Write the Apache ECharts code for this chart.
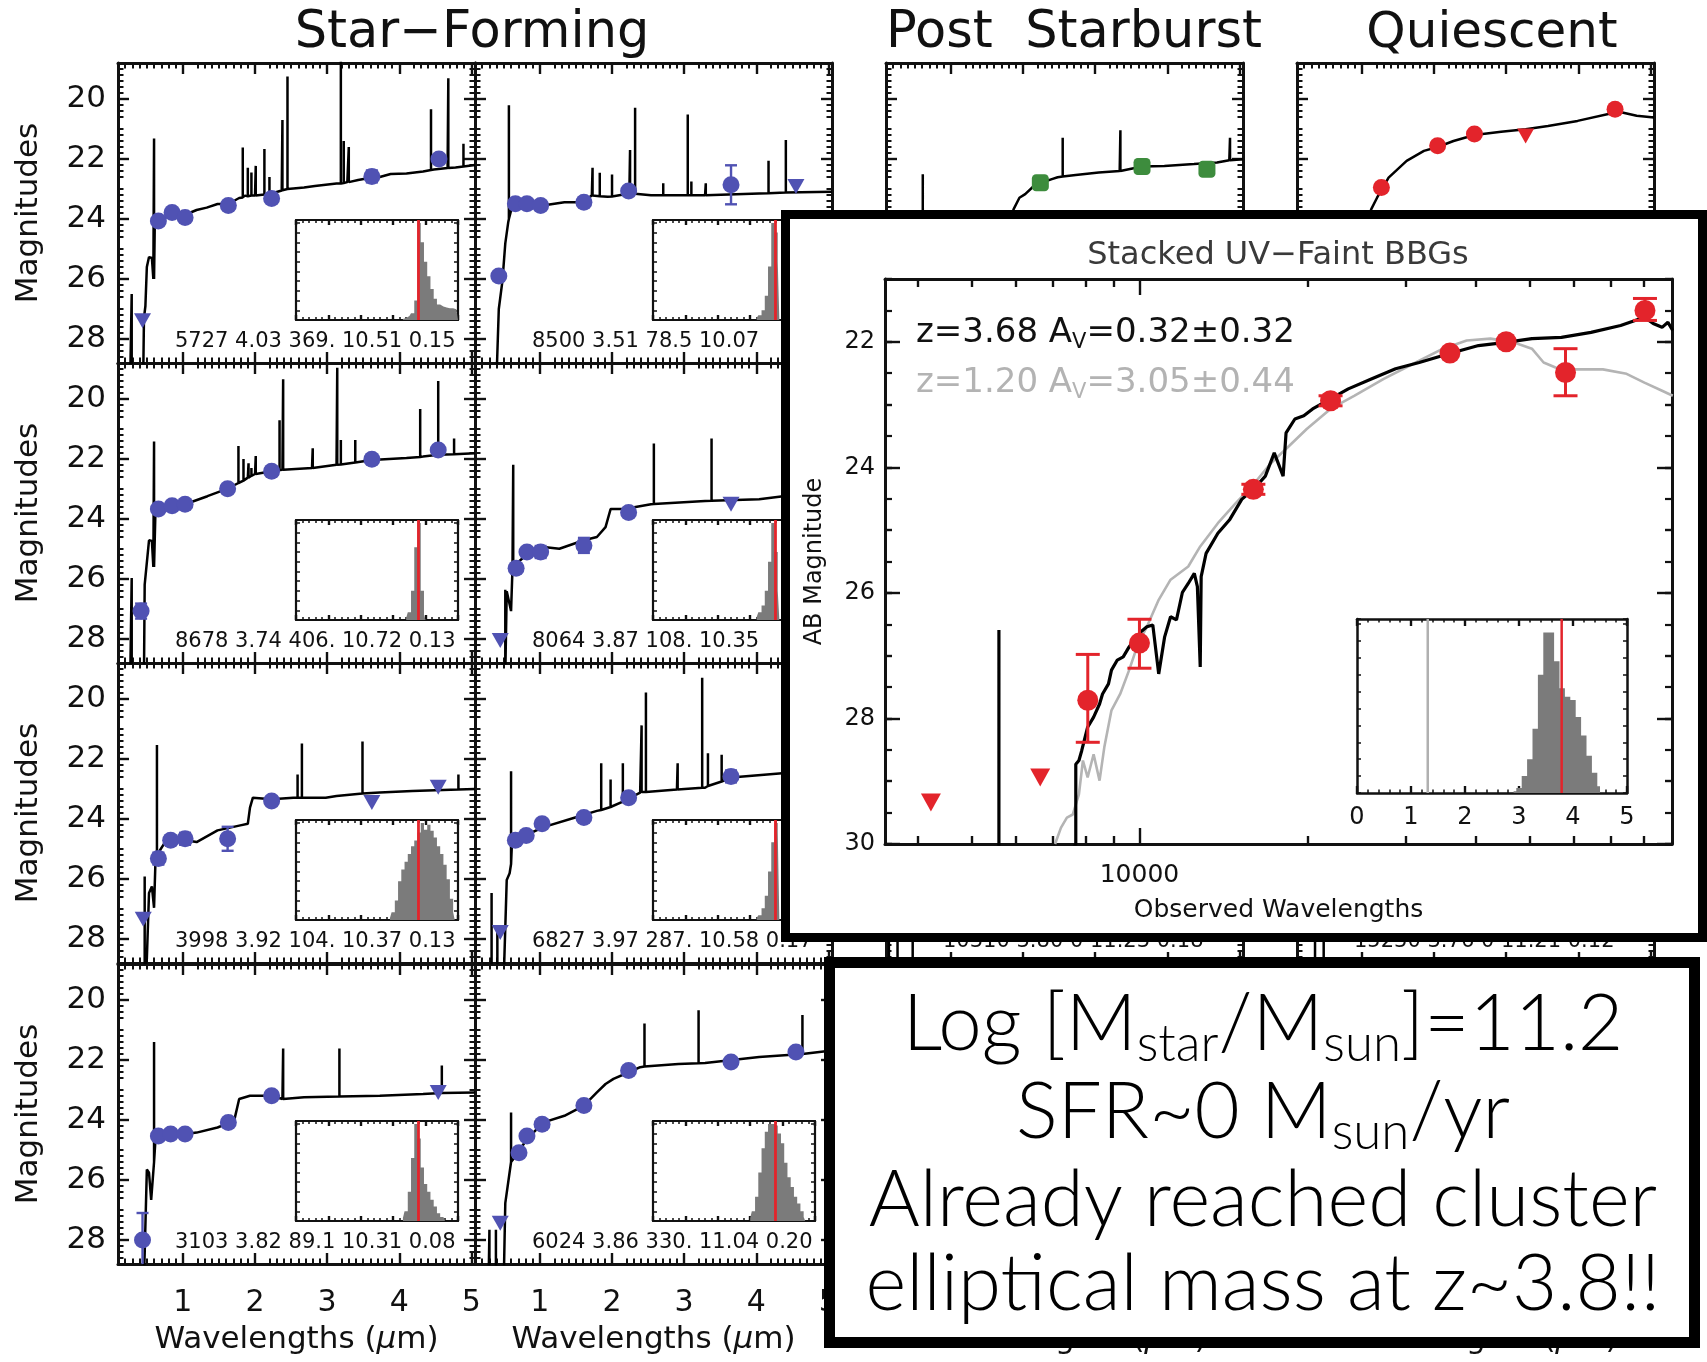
<!DOCTYPE html>
<html><head><meta charset="utf-8">
<script src="https://cdn.jsdelivr.net/npm/echarts@6.0.0/dist/echarts.min.js"></script>
<style>html,body{margin:0;padding:0;background:#fff}#c{width:1707px;height:1362px}</style>
</head><body><div id="c"></div>
<script>
// ===================== DATA =====================
const COLUMN_TITLES = ['Star\u2212Forming', 'Post  Starburst', 'Quiescent'];
const WL_TICKS = [1, 2, 3, 4, 5];
const MAG_TICKS = [20, 22, 24, 26, 28];
const HIST_RED_Z = 3.78;

// Star-forming, column A (left), rows 1-4.  cont: [um, mag]; lines: [um, base mag, peak mag]
// det: [um, mag, err]; lim: [um, mag] upper limits; hist: [z, relative height]
const sfA1_cont = [[0.27,29.2],[0.45,29.2],[0.46,27.3],[0.48,26.9],[0.5,25.6],[0.53,25.27],[0.57,25.3],[0.59,26.0],[0.61,24.15],[0.66,24.05],[0.74,23.95],[0.89,23.85],[1.04,23.85],[1.19,23.7],[1.33,23.62],[1.48,23.5],[1.63,23.5],[1.78,23.3],[1.86,23.22],[2.0,23.22],[2.16,23.2],[2.23,23.15],[2.37,23.05],[2.53,22.98],[2.68,22.95],[2.83,22.9],[2.98,22.86],[3.13,22.82],[3.28,22.77],[3.43,22.7],[3.62,22.62],[3.73,22.6],[3.88,22.5],[4.1,22.48],[4.33,22.42],[4.48,22.35],[4.67,22.3],[4.78,22.28],[4.9,22.25],[5.05,22.2]];
const sfA1_lines = [[0.29,29.2,26.5],[0.6,26.0,21.32],[1.83,23.28,21.62],[1.9,23.24,22.29],[1.95,23.22,22.45],[2.01,23.22,22.23],[2.13,23.18,21.67],[2.2,23.16,22.6],[2.38,23.04,20.7],[2.45,23.0,19.25],[3.19,22.82,18.7],[3.23,22.8,21.4],[3.3,22.77,21.6],[4.44,22.37,20.34],[4.68,22.3,19.31],[4.89,22.25,21.49]];
const sfA1_det = [[0.66,24.07,0.15],[0.85,23.78,0.12],[1.03,23.95,0.15],[1.63,23.55,0.12],[2.23,23.32,0.1],[3.62,22.58,0.2],[4.55,22.0,0.12]];
const sfA1_lim = [[0.44,27.39]];
const sfA1_hist = [[3.3,0.01],[3.4,0.02],[3.5,0.04],[3.6,0.07],[3.7,0.2],[3.8,1.0],[3.9,0.8],[4.0,0.6],[4.1,0.45],[4.2,0.32],[4.3,0.22],[4.4,0.16],[4.5,0.14],[4.6,0.13],[4.7,0.12],[4.8,0.12],[4.9,0.11],[5.0,0.1]];
const sfA1_text = '5727 4.03 369. 10.51 0.15';

const sfA2_cont = [[0.27,29.2],[0.46,29.2],[0.47,26.19],[0.53,24.71],[0.57,24.73],[0.59,25.6],[0.62,23.67],[0.85,23.56],[1.03,23.51],[1.34,23.24],[1.62,22.99],[1.78,22.8],[1.9,22.62],[2.0,22.5],[2.23,22.41],[2.38,22.36],[2.79,22.3],[3.13,22.19],[3.62,22.03],[4.1,21.97],[4.33,21.92],[4.55,21.85],[5.05,21.81]];
const sfA2_lines = [[0.29,29.2,25.97],[0.6,25.6,21.42],[1.77,22.8,21.57],[1.84,22.72,22.0],[1.91,22.62,22.14],[1.95,22.56,22.3],[2.01,22.5,21.9],[2.34,22.37,20.71],[2.39,22.36,19.34],[2.8,22.3,21.64],[3.14,22.19,18.96],[3.19,22.18,21.37],[3.39,22.12,21.37],[4.29,21.93,20.33],[4.54,21.86,19.4],[4.76,21.84,21.32]];
const sfA2_det = [[0.42,27.07,0.25],[0.66,23.67,0.1],[0.85,23.56,0.1],[1.03,23.51,0.1],[1.62,22.99,0.08],[2.23,22.41,0.08],[3.62,22.01,0.08],[4.54,21.7,0.1]];
const sfA2_lim = [];
const sfA2_hist = [[3.4,0.02],[3.5,0.08],[3.6,0.3],[3.7,0.75],[3.8,1.0],[3.9,0.3],[4.0,0.05]];
const sfA2_text = '8678 3.74 406. 10.72 0.13';

const sfA3_cont = [[0.27,29.2],[0.49,29.2],[0.5,28.66],[0.53,26.47],[0.57,26.25],[0.6,26.96],[0.62,25.37],[0.74,24.82],[1.04,24.71],[1.19,24.77],[1.48,24.38],[1.78,24.22],[1.9,24.16],[1.93,23.62],[1.97,23.29],[2.23,23.34],[2.53,23.29],[2.98,23.29],[3.13,23.23],[3.73,23.12],[4.18,23.07],[5.05,23.0]];
const sfA3_lines = [[0.47,29.2,25.92],[0.64,25.2,21.53],[2.59,23.29,22.52],[2.65,23.29,21.48],[3.49,23.15,21.42],[4.82,23.02,22.52]];
const sfA3_det = [[0.66,25.32,0.2],[0.83,24.71,0.15],[1.03,24.66,0.2],[1.62,24.66,0.4],[2.23,23.4,0.12]];
const sfA3_lim = [[0.45,27.34],[3.62,23.45],[4.54,22.94]];
const sfA3_hist = [[2.9,0.02],[3.0,0.08],[3.1,0.2],[3.2,0.4],[3.3,0.52],[3.4,0.6],[3.5,0.68],[3.6,0.76],[3.7,0.82],[3.8,0.9],[3.9,1.0],[4.0,0.93],[4.1,0.98],[4.2,0.92],[4.3,0.85],[4.4,0.76],[4.5,0.68],[4.6,0.57],[4.7,0.42],[4.8,0.22],[4.9,0.08]];
const sfA3_text = '3998 3.92 104. 10.37 0.13';

const sfA4_cont = [[0.27,29.2],[0.46,29.2],[0.47,28.45],[0.5,25.65],[0.53,25.76],[0.56,26.66],[0.62,24.64],[1.04,24.47],[1.19,24.42],[1.48,24.25],[1.71,24.03],[1.78,23.3],[1.93,23.19],[2.23,23.19],[2.38,23.3],[2.68,23.24],[3.73,23.19],[4.33,23.13],[5.05,23.08]];
const sfA4_lines = [[0.6,25.4,21.4],[2.39,23.3,21.62],[3.17,23.22,21.62],[4.59,23.1,22.18]];
const sfA4_det = [[0.44,28.0,0.9],[0.66,24.53,0.1],[0.83,24.47,0.1],[1.03,24.47,0.15],[1.63,24.08,0.12],[2.23,23.19,0.1]];
const sfA4_lim = [[4.54,23.08]];
const sfA4_hist = [[3.3,0.03],[3.4,0.1],[3.5,0.3],[3.6,0.65],[3.7,1.0],[3.8,0.85],[3.9,0.55],[4.0,0.38],[4.1,0.3],[4.2,0.22],[4.3,0.15],[4.4,0.08],[4.5,0.04],[4.6,0.02]];
const sfA4_text = '3103 3.82 89.1 10.31 0.08';

// Star-forming, column B
const sfB1_cont = [[0.4,29.2],[0.43,27.0],[0.48,26.07],[0.52,24.81],[0.56,24.12],[0.63,23.44],[0.82,23.5],[1.04,23.55],[1.34,23.44],[1.61,23.44],[1.72,23.21],[1.94,23.26],[2.24,23.15],[2.54,23.21],[3.29,23.21],[4.04,23.15],[5.05,23.09]];
const sfB1_lines = [[0.57,24.0,20.21],[1.73,23.22,22.29],[1.83,23.24,22.46],[2.0,23.25,22.52],[2.25,23.15,21.7],[2.32,23.16,20.29],[2.71,23.21,22.81],[3.05,23.21,20.52],[3.1,23.21,22.75],[3.3,23.21,22.81],[4.17,23.14,22.06],[4.41,23.12,21.37]];
const sfB1_det = [[0.43,25.9,0.15],[0.66,23.49,0.1],[0.82,23.49,0.1],[1.01,23.55,0.12],[1.61,23.44,0.12],[2.23,23.07,0.08],[3.65,22.86,0.65]];
const sfB1_lim = [[4.55,22.92]];
const sfB1_hist = [[3.2,0.02],[3.3,0.05],[3.4,0.1],[3.5,0.25],[3.6,0.55],[3.7,1.0],[3.8,0.9],[3.9,0.6]];
const sfB1_text = '8500 3.51 78.5 10.07';

const sfB2_cont = [[0.47,29.2],[0.48,28.82],[0.54,26.41],[0.6,27.07],[0.62,25.64],[0.67,25.5],[0.82,25.18],[1.05,24.93],[1.27,24.99],[1.61,24.71],[1.79,24.6],[1.91,24.27],[1.98,23.67],[2.17,23.67],[2.54,23.51],[3.29,23.4],[4.04,23.34],[4.4,23.23]];
const sfB2_lines = [[0.52,29.2,26.36],[0.63,25.6,22.19],[2.58,23.5,21.48],[3.38,23.39,21.32]];
const sfB2_det = [[0.67,25.64,0.12],[0.82,25.1,0.15],[1.01,25.1,0.2],[1.61,24.88,0.25],[2.23,23.78,0.1]];
const sfB2_lim = [[0.45,28.05],[3.65,23.51]];
const sfB2_hist = [[3.2,0.03],[3.3,0.08],[3.4,0.15],[3.5,0.3],[3.6,0.6],[3.7,1.0],[3.8,0.7],[3.9,0.3]];
const sfB2_text = '8064 3.87 108. 10.35';

const sfB3_cont = [[0.3,29.2],[0.5,29.2],[0.54,26.03],[0.58,25.81],[0.61,24.93],[0.75,24.6],[1.05,24.27],[1.49,23.95],[1.79,23.73],[2.17,23.4],[2.39,23.12],[2.9,23.02],[3.29,22.96],[3.65,22.62],[4.4,22.47]];
const sfB3_lines = [[0.33,29.2,26.47],[0.41,29.2,27.56],[0.6,25.5,22.41],[1.85,23.7,22.14],[1.98,23.6,22.68],[2.15,23.42,22.14],[2.41,23.1,20.88],[2.47,23.1,19.78],[2.91,23.02,22.14],[3.25,22.96,19.29],[3.33,22.9,21.81],[3.52,22.75,21.86]];
const sfB3_det = [[0.66,24.71,0.15],[0.81,24.55,0.15],[1.03,24.16,0.15],[1.61,23.95,0.15],[2.23,23.29,0.1],[3.65,22.58,0.2]];
const sfB3_lim = [[0.45,27.78]];
const sfB3_hist = [[3.2,0.02],[3.3,0.05],[3.4,0.12],[3.5,0.25],[3.6,0.5],[3.7,0.8],[3.8,1.0],[3.9,0.9]];
const sfB3_text = '6827 3.97 287. 10.58 0.17';

const sfB4_cont = [[0.29,29.2],[0.5,29.2],[0.52,26.77],[0.63,25.31],[0.82,24.64],[1.05,24.08],[1.34,23.86],[1.61,23.52],[1.79,23.08],[1.91,22.8],[2.02,22.63],[2.24,22.4],[2.39,22.24],[2.92,22.13],[3.29,22.1],[4.04,21.9],[5.05,21.68]];
const sfB4_lines = [[0.3,29.2,27.66],[0.39,29.2,27.66],[0.6,25.4,23.75],[2.45,22.22,20.78],[3.2,22.11,20.34],[4.64,21.8,20.5]];
const sfB4_det = [[0.71,25.09,0.08],[0.82,24.53,0.08],[1.03,24.14,0.08],[1.61,23.52,0.08],[2.23,22.35,0.08],[3.65,22.07,0.08],[4.55,21.73,0.08]];
const sfB4_lim = [[0.45,27.44]];
const sfB4_hist = [[3.0,0.03],[3.1,0.1],[3.2,0.25],[3.3,0.5],[3.4,0.75],[3.5,0.92],[3.6,1.0],[3.7,1.0],[3.8,0.98],[3.9,0.9],[4.0,0.8],[4.1,0.6],[4.2,0.45],[4.3,0.35],[4.4,0.25],[4.5,0.18],[4.6,0.1],[4.7,0.04]];
const sfB4_text = '6024 3.86 330. 11.04 0.20';

// Post starburst (visible parts)
const psb1_cont = [[1.75,24.5],[1.87,23.67],[1.95,23.29],[2.03,23.17],[2.15,22.9],[2.25,22.79],[2.4,22.67],[2.48,22.61],[2.73,22.53],[3.05,22.45],[3.34,22.4],[3.65,22.25],[3.96,22.23],[4.37,22.17],[4.69,22.12],[4.86,22.04],[5.05,22.01]];
const psb1_lines = [[0.61,29.2,22.51],[2.55,22.58,21.29],[3.35,22.4,21.04],[4.87,22.04,21.29]];
const psb1_det = [[2.24,22.79,0.1],[3.65,22.25,0.1],[4.55,22.34,0.12]];
const psb3_lines = [[0.14,29.2,28.0],[0.26,29.2,28.0],[0.47,29.2,28.0]];
const psb3_text = '10310 3.80 0 11.23 0.18';

// Quiescent (visible parts)
const qui1_cont = [[0.96,24.7],[1.13,23.67],[1.21,23.29],[1.37,22.62],[1.62,22.06],[1.86,21.73],[2.05,21.6],[2.27,21.4],[2.56,21.2],[2.93,21.09],[3.27,21.01],[3.58,20.9],[3.99,20.73],[4.51,20.45],[4.61,20.45],[4.81,20.56],[5.05,20.62]];
const qui1_det = [[1.27,22.95,0.1],[2.05,21.56,0.08],[2.56,21.17,0.08],[4.51,20.34,0.15]];
const qui1_lim = [[3.27,21.23]];
const qui3_lines = [[0.35,29.2,28.0],[0.47,29.2,28.0]];
const qui3_text = '15230 3.76 0 11.21 0.12';

// Stacked UV-faint BBGs (inset). Wavelengths in Angstrom
const stack_fitA = [[7326,30.3],[7690,30.0],[7690,28.73],[7790,28.67],[7882,28.51],[8075,28.14],[8277,27.98],[8482,27.77],[8587,27.61],[8800,27.45],[8910,27.23],[9127,27.07],[9352,27.02],[9583,26.86],[9820,26.73],[10062,26.62],[10311,26.54],[10566,26.51],[10827,27.29],[11096,26.7],[11370,26.38],[11650,26.43],[11940,25.99],[12230,25.85],[12540,25.69],[12700,25.9],[12850,27.18],[12900,25.74],[13165,25.37],[13820,25.05],[14520,24.83],[15250,24.51],[16010,24.35],[16810,24.14],[17440,23.77],[18090,24.14],[18310,23.45],[18990,23.23],[19700,23.18],[20430,23.07],[21990,22.91],[23670,22.75],[26090,22.59],[28770,22.43],[31720,22.33],[35840,22.19],[40510,22.06],[45340,22.01],[50490,21.95],[57030,21.93],[64440,21.85],[72820,21.74],[80320,21.61],[83270,21.71],[86390,21.77],[88500,21.69],[90290,21.82]];
const stack_lyaA = [[5600,31.0,26.59]];
const stack_fitB = [[7060,30.0],[7235,29.74],[7413,29.58],[7596,29.53],[7790,29.21],[7920,28.67],[8075,28.94],[8277,28.57],[8482,28.99],[8650,28.46],[8910,27.87],[9236,27.61],[9583,27.23],[9943,26.81],[10311,26.54],[10827,26.11],[11370,25.79],[12230,25.58],[12850,25.26],[13820,24.89],[14880,24.57],[16010,24.27],[17220,23.93],[18540,23.66],[19940,23.39],[21990,23.07],[24250,22.86],[27400,22.59],[30950,22.35],[34990,22.11],[38580,21.98],[42540,21.95],[46910,22.01],[50490,22.11],[52990,22.33],[55660,22.41],[59880,22.44],[67660,22.44],[74610,22.51],[80320,22.65],[86390,22.78],[90290,22.86]];
const stack_det = [[8080,27.71,26.98,28.38],[10000,26.8,26.42,27.2],[16000,24.35,24.27,24.43],[22000,22.94,22.86,23.02],[36000,22.18,22.18,22.18],[45400,22.0,22.0,22.0],[58000,22.49,22.11,22.86],[80500,21.5,21.31,21.66]];
const stack_lim = [[4230,29.34],[6640,28.94]];
const stack_hist = [[2.9,0.01],[3.0,0.03],[3.1,0.1],[3.2,0.2],[3.3,0.38],[3.4,0.7],[3.5,0.95],[3.6,0.95],[3.7,0.78],[3.8,0.62],[3.9,0.57],[4.0,0.55],[4.1,0.45],[4.2,0.34],[4.3,0.22],[4.4,0.12],[4.5,0.04]];
const STACK_Z_BEST = 3.79, STACK_Z_ALT = 1.31;
const WAVE_MINOR_TICKS = [4000,5000,6000,7000,8000,9000,20000,30000,40000,50000,60000,70000,80000];
const WAVE_MAJOR_TICKS = [10000];
const AB_TICKS = [22, 24, 26, 28, 30];
const ZHIST_TICKS = [0, 1, 2, 3, 4, 5];

const NOTE_LINES = [
  '{m|Log [M}{s|star}{m|/M}{s|sun}{m|]=11.2}',
  '{m|SFR~0 M}{s|sun}{m|/yr}',
  '{m|Already reached cluster}',
  '{m|elliptical mass at z~3.8!!}'
];

// ===================== STYLE / LAYOUT =====================
const FONT = 'DejaVu Sans';
const INK = '#111111';
const BLUE = '#5052b3', GREEN = '#3d8c3d', RED = '#e3242b', HISTGREY = '#7b7b7b', FITGREY = '#b4b4b4';
const COL_LEFT = [118, 475, 886, 1297], ROW_TOP = [63, 363, 663, 964], PW = 357, PH = 300;

const PANELS = [
  {c:0,r:0,cont:sfA1_cont,lines:sfA1_lines,det:sfA1_det,lim:sfA1_lim,hist:sfA1_hist,text:sfA1_text,color:BLUE},
  {c:0,r:1,cont:sfA2_cont,lines:sfA2_lines,det:sfA2_det,lim:sfA2_lim,hist:sfA2_hist,text:sfA2_text,color:BLUE},
  {c:0,r:2,cont:sfA3_cont,lines:sfA3_lines,det:sfA3_det,lim:sfA3_lim,hist:sfA3_hist,text:sfA3_text,color:BLUE},
  {c:0,r:3,cont:sfA4_cont,lines:sfA4_lines,det:sfA4_det,lim:sfA4_lim,hist:sfA4_hist,text:sfA4_text,color:BLUE},
  {c:1,r:0,cont:sfB1_cont,lines:sfB1_lines,det:sfB1_det,lim:sfB1_lim,hist:sfB1_hist,text:sfB1_text,color:BLUE},
  {c:1,r:1,cont:sfB2_cont,lines:sfB2_lines,det:sfB2_det,lim:sfB2_lim,hist:sfB2_hist,text:sfB2_text,color:BLUE},
  {c:1,r:2,cont:sfB3_cont,lines:sfB3_lines,det:sfB3_det,lim:sfB3_lim,hist:sfB3_hist,text:sfB3_text,color:BLUE},
  {c:1,r:3,cont:sfB4_cont,lines:sfB4_lines,det:sfB4_det,lim:sfB4_lim,hist:sfB4_hist,text:sfB4_text,color:BLUE},
  {c:2,r:0,cont:psb1_cont,lines:psb1_lines,det:psb1_det,lim:[],color:GREEN,sym:'roundRect'},
  {c:2,r:2,cont:[],lines:psb3_lines,text:psb3_text},
  {c:3,r:0,cont:qui1_cont,lines:[],det:qui1_det,lim:qui1_lim,color:RED},
  {c:3,r:2,cont:[],lines:qui3_lines,text:qui3_text}
];

const opt = {animation:false, backgroundColor:'#ffffff', grid:[], xAxis:[], yAxis:[], series:[], graphic:{elements:[]}};
const G = opt.graphic.elements;

function addGrid(l, t, w, h) {
  opt.grid.push({left:l, top:t, width:w, height:h, containLabel:false, outerBoundsMode:'none', show:false});
  return opt.grid.length - 1;
}
function axis(dim, gi, pos, o) {
  const a = {
    type: o.type || 'value', gridIndex: gi, position: pos, z: o.z || 0,
    min: o.min, max: o.max, inverse: !!o.inverse, silent: true, nameMoveOverlap: false,
    axisLine: {show: o.line !== false, onZero: false, lineStyle: {color: INK, width: o.lw || 3}},
    axisTick: {show: (o.tickLen || 0) > 0, inside: true, length: o.tickLen || 0, lineStyle: {color: INK, width: o.tw || 2.4}},
    minorTick: {show: !!o.minor, splitNumber: o.minor || 5, length: o.minorLen || 5, lineStyle: {color: INK, width: o.mw || 2}},
    axisLabel: {show: !!o.labels, color: INK, fontFamily: FONT, fontSize: o.fs || 28, margin: o.margin || 12},
    splitLine: {show: false}, minorSplitLine: {show: false}, splitArea: {show: false}
  };
  if (o.logBase) a.logBase = o.logBase;
  if (o.interval != null) a.interval = o.interval;
  if (o.majors) a.axisTick.customValues = o.majors;
  if (o.labels) a.axisLabel.customValues = o.labels;
  if (o.formatter) a.axisLabel.formatter = o.formatter;
  if (o.name) {
    a.name = o.name; a.nameLocation = 'middle'; a.nameGap = o.nameGap;
    a.nameTextStyle = {fontFamily: FONT, fontSize: o.nameSize || 30, color: INK,
      rich: {i: {fontFamily: FONT, fontSize: o.nameSize || 30, fontStyle: 'italic', color: INK}}};
  }
  const arr = dim === 'x' ? opt.xAxis : opt.yAxis;
  arr.push(a);
  return arr.length - 1;
}
function modelPath(cont, lines) {
  const items = [];
  const x0 = cont.length ? cont[0][0] : Infinity;
  const x1 = cont.length ? cont[cont.length - 1][0] : -Infinity;
  cont.forEach(p => items.push({x: p[0], pts: [[p[0], p[1]]]}));
  lines.forEach(l => {
    const pts = [[l[0], l[1]], [l[0], l[2]], [l[0], l[1]]];
    if (!(l[0] >= x0 && l[0] <= x1)) { pts.unshift([l[0], '-']); pts.push([l[0], '-']); }
    items.push({x: l[0], pts});
  });
  items.sort((a, b) => a.x - b.x);
  return items.flatMap(i => i.pts);
}
function errorBars(xi, yi, data, color, capHalf, width, z) {
  return {type:'custom', xAxisIndex:xi, yAxisIndex:yi, data, z, silent:true, clip:true,
    encode:{x:0, y:[1,2]},
    renderItem: (params, api) => {
      const x = api.value(0), lo = api.value(1), hi = api.value(2);
      const a = api.coord([x, lo]), b = api.coord([x, hi]);
      const st = {stroke: color, lineWidth: width};
      return {type:'group', children:[
        {type:'line', shape:{x1:a[0], y1:a[1], x2:b[0], y2:b[1]}, style:st},
        {type:'line', shape:{x1:a[0]-capHalf, y1:a[1], x2:a[0]+capHalf, y2:a[1]}, style:st},
        {type:'line', shape:{x1:b[0]-capHalf, y1:b[1], x2:b[0]+capHalf, y2:b[1]}, style:st}
      ]};
    }};
}
function txt(x, y, text, size, z, fill) {
  return {type:'text', x, y, z: z || 1, silent:true,
    style: {text, fontFamily: FONT, fontSize: size, fill: fill || INK,
      align:'center', verticalAlign:'middle', textAlign:'center', textVerticalAlign:'middle'}};
}

// ---------- titles ----------
G.push(txt(472, 34, COLUMN_TITLES[0], 51));
G.push(txt(1074, 34, COLUMN_TITLES[1], 51));
G.push(txt(1492, 34, COLUMN_TITLES[2], 50));

// ---------- small SED panels ----------
for (let c = 0; c < 4; c++) for (let r = 0; r < 4; r++) {
  const p = PANELS.find(q => q.c === c && q.r === r) || {};
  const L = COL_LEFT[c], T = ROW_TOP[r];
  const g = addGrid(L, T, PW, PH);
  const bottomRow = r === 3, firstCol = c === 0;
  const xo = {min:0.1, max:5.05, interval:1, tickLen:11, majors:WL_TICKS, minor:10, minorLen:5.5};
  const yo = {min:18.8, max:28.8, interval:2, inverse:true, tickLen:11, majors:MAG_TICKS, minor:10, minorLen:5.5};
  const xb = axis('x', g, 'bottom', Object.assign({}, xo, bottomRow ? {labels:WL_TICKS, fs:30, margin:24, name:'Wavelengths ({i|\u00b5}m)', nameGap:60, nameSize:31} : {}));
  axis('x', g, 'top', xo);
  const yl = axis('y', g, 'left', Object.assign({}, yo, firstCol ? {labels:MAG_TICKS, fs:31, margin:12, name:'Magnitudes', nameGap:74, nameSize:31} : {}));
  axis('y', g, 'right', yo);

  if ((p.cont && p.cont.length) || (p.lines && p.lines.length)) {
    opt.series.push({type:'line', xAxisIndex:xb, yAxisIndex:yl, data:modelPath(p.cont || [], p.lines || []),
      showSymbol:false, symbol:'none', lineStyle:{color:'#000', width:2.5}, z:2, silent:true, clip:true, connectNulls:false});
  }
  if (p.det && p.det.length) {
    opt.series.push(errorBars(xb, yl, p.det.map(d => [d[0], d[1] - d[2], d[1] + d[2]]), p.color, 6, 2.4, 3));
    opt.series.push({type:'scatter', xAxisIndex:xb, yAxisIndex:yl, data:p.det.map(d => [d[0], d[1]]),
      symbol:p.sym || 'circle', symbolSize:17, itemStyle:{color:p.color, opacity:1}, z:4, silent:true});
  }
  if (p.lim && p.lim.length) {
    opt.series.push({type:'scatter', xAxisIndex:xb, yAxisIndex:yl, data:p.lim,
      symbol:'triangle', symbolRotate:180, symbolSize:[17,15], itemStyle:{color:p.color, opacity:1}, z:4, silent:true});
  }
  if (p.hist) {
    const hg = addGrid(L + 178, T + 157, 162, 100);
    const ho = {min:0, max:5, interval:1, tickLen:5, minor:5, minorLen:3, mw:1.5, lw:2.2, z:1};
    const hvo = {min:0, max:1.03, interval:0.1, tickLen:4, lw:2.2, tw:1.5, z:1};
    const hx = axis('x', hg, 'bottom', ho); axis('x', hg, 'top', ho);
    const hy = axis('y', hg, 'left', hvo); axis('y', hg, 'right', hvo);
    opt.series.push({type:'line', xAxisIndex:hx, yAxisIndex:hy, data:p.hist, step:'middle', showSymbol:false, symbol:'none',
      lineStyle:{width:0, color:'rgba(0,0,0,0)'}, areaStyle:{color:HISTGREY, opacity:1, origin:'start'}, z:2, silent:true});
    opt.series.push({type:'line', xAxisIndex:hx, yAxisIndex:hy, data:[[HIST_RED_Z, 0], [HIST_RED_Z, 1.03]],
      showSymbol:false, symbol:'none', lineStyle:{color:RED, width:2.8}, z:3, silent:true});
  }
  if (p.text) {
    G.push({type:'text', x:L + 57, y:T + 279, z:1, silent:true,
      style:{text:p.text, fontFamily:FONT, fontSize:21, fill:INK, align:'left', verticalAlign:'middle', textAlign:'left', textVerticalAlign:'middle'}});
  }
}

// ---------- stacked inset ----------
G.push({type:'rect', z:10, silent:true, shape:{x:785.5, y:214.5, width:917, height:723},
  style:{fill:'#ffffff', stroke:'#000000', lineWidth:9}});
G.push(txt(1278, 256, 'Stacked UV\u2212Faint BBGs', 32, 12, '#3a3a3a'));
G.push({type:'text', x:916, y:333, z:12, silent:true, style:{
  text:'{a|z=3.68 A}{s|V}{a|=0.32\u00b10.32}', align:'left', verticalAlign:'middle', textAlign:'left', textVerticalAlign:'middle',
  rich:{a:{fontFamily:FONT, fontSize:34, fill:INK, lineHeight:40}, s:{fontFamily:FONT, fontSize:21, fill:INK, verticalAlign:'bottom', lineHeight:34}}}});
G.push({type:'text', x:916, y:383, z:12, silent:true, style:{
  text:'{a|z=1.20 A}{s|V}{a|=3.05\u00b10.44}', align:'left', verticalAlign:'middle', textAlign:'left', textVerticalAlign:'middle',
  rich:{a:{fontFamily:FONT, fontSize:34, fill:'#b3b3b3', lineHeight:40}, s:{fontFamily:FONT, fontSize:21, fill:'#b3b3b3', verticalAlign:'bottom', lineHeight:34}}}});

const sg = addGrid(885, 279, 787, 565);
const sxo = {type:'log', logBase:10, min:3500, max:90000, lw:3, z:11};
const sx = axis('x', sg, 'bottom', Object.assign({}, sxo, {tickLen:8, majors:WAVE_MINOR_TICKS, labels:WAVE_MAJOR_TICKS,
  formatter: v => String(Math.round(v)), fs:25, margin:19, name:'Observed Wavelengths', nameGap:54, nameSize:25}));
axis('x', sg, 'bottom', Object.assign({}, sxo, {line:false, tickLen:16, majors:WAVE_MAJOR_TICKS}));
axis('x', sg, 'top', Object.assign({}, sxo, {tickLen:8, majors:WAVE_MINOR_TICKS}));
axis('x', sg, 'top', Object.assign({}, sxo, {line:false, tickLen:16, majors:WAVE_MAJOR_TICKS}));
const syo = {min:21, max:30, interval:1, inverse:true, lw:3, z:11};
const sy = axis('y', sg, 'left', Object.assign({}, syo, {tickLen:7, minor:2, minorLen:7, mw:2.2, labels:AB_TICKS, fs:24, margin:10, name:'AB Magnitude', nameGap:58, nameSize:24}));
axis('y', sg, 'left', Object.assign({}, syo, {line:false, tickLen:15, majors:AB_TICKS}));
axis('y', sg, 'right', Object.assign({}, syo, {tickLen:7, minor:2, minorLen:7, mw:2.2}));
axis('y', sg, 'right', Object.assign({}, syo, {line:false, tickLen:15, majors:AB_TICKS}));

opt.series.push({type:'line', xAxisIndex:sx, yAxisIndex:sy, data:stack_fitB, showSymbol:false, symbol:'none',
  lineStyle:{color:FITGREY, width:2.6}, z:12, silent:true, clip:true});
opt.series.push({type:'line', xAxisIndex:sx, yAxisIndex:sy, data:modelPath(stack_fitA, stack_lyaA), showSymbol:false, symbol:'none',
  lineStyle:{color:'#000', width:3.2}, z:13, silent:true, clip:true, connectNulls:false});
opt.series.push(errorBars(sx, sy, stack_det.filter(d => d[3] > d[2]).map(d => [d[0], d[2], d[3]]), RED, 12, 3, 14));
opt.series.push({type:'scatter', xAxisIndex:sx, yAxisIndex:sy, data:stack_det.map(d => [d[0], d[1]]),
  symbol:'circle', symbolSize:21, itemStyle:{color:RED, opacity:1}, z:15, silent:true});
opt.series.push({type:'scatter', xAxisIndex:sx, yAxisIndex:sy, data:stack_lim,
  symbol:'triangle', symbolRotate:180, symbolSize:[20,18], itemStyle:{color:RED, opacity:1}, z:15, silent:true});

const zg = addGrid(1357, 619, 270, 174);
const zxo = {min:0, max:5, interval:1, tickLen:7, minor:5, minorLen:3.5, mw:1.5, lw:2.5, z:11};
const zyo = {min:0, max:1.03, interval:0.1, tickLen:4, tw:1.5, lw:2.5, z:11};
const zx = axis('x', zg, 'bottom', Object.assign({}, zxo, {labels:ZHIST_TICKS, fs:24, margin:13}));
axis('x', zg, 'top', zxo);
const zy = axis('y', zg, 'left', zyo);
axis('y', zg, 'right', zyo);
opt.series.push({type:'line', xAxisIndex:zx, yAxisIndex:zy, data:stack_hist, step:'middle', showSymbol:false, symbol:'none',
  lineStyle:{width:0, color:'rgba(0,0,0,0)'}, areaStyle:{color:HISTGREY, opacity:1, origin:'start'}, z:12, silent:true});
opt.series.push({type:'line', xAxisIndex:zx, yAxisIndex:zy, data:[[STACK_Z_ALT, 0], [STACK_Z_ALT, 1.03]],
  showSymbol:false, symbol:'none', lineStyle:{color:'#b0b0b0', width:2.5}, z:13, silent:true});
opt.series.push({type:'line', xAxisIndex:zx, yAxisIndex:zy, data:[[STACK_Z_BEST, 0], [STACK_Z_BEST, 1.03]],
  showSymbol:false, symbol:'none', lineStyle:{color:RED, width:2.5}, z:13, silent:true});

// ---------- annotation box ----------
G.push({type:'rect', z:20, silent:true, shape:{x:829.5, y:962.5, width:865, height:380},
  style:{fill:'#ffffff', stroke:'#000000', lineWidth:11}});
const NOTE_Y = [1025, 1113, 1201, 1285];
NOTE_LINES.forEach((t, i) => {
  G.push({type:'text', x:1263, y:NOTE_Y[i], z:21, silent:true, style:{
    text:t, align:'center', verticalAlign:'middle', textAlign:'center', textVerticalAlign:'middle',
    rich:{m:{fontFamily:'Lato', fontWeight:300, fontSize:78, fill:'#000', lineHeight:90},
          s:{fontFamily:'Lato', fontWeight:300, fontSize:51, fill:'#000', verticalAlign:'bottom', lineHeight:62}}}});
});

const chart = echarts.init(document.getElementById('c'), null, {renderer:'canvas'});
chart.setOption(opt);
</script>
</body></html>
